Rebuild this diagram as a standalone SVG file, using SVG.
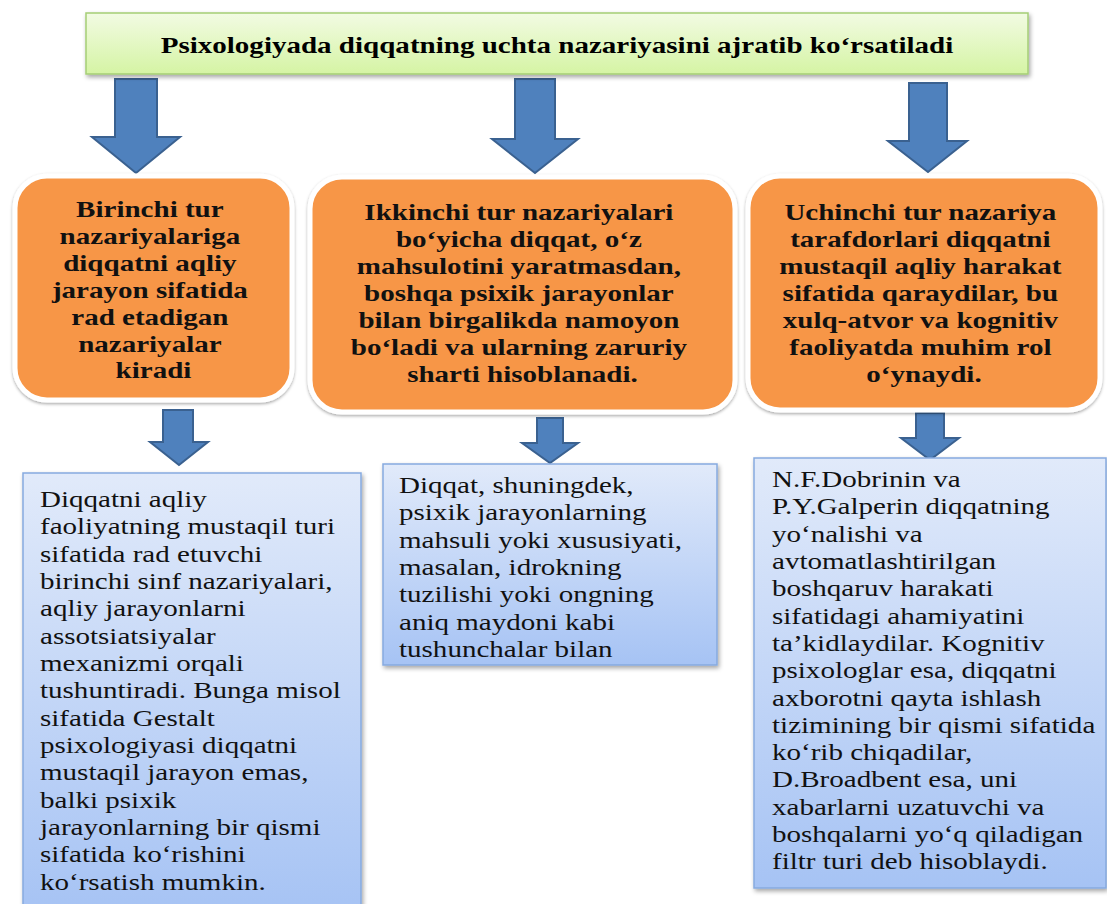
<svg xmlns="http://www.w3.org/2000/svg" width="1107" height="904" viewBox="0 0 1107 904">
<defs>
<linearGradient id="gGreen" x1="0" y1="0" x2="0" y2="1">
<stop offset="0" stop-color="#F2FBE3"/>
<stop offset="1" stop-color="#D5F4A4"/>
</linearGradient>
<linearGradient id="gBlue" x1="0" y1="0" x2="0" y2="1">
<stop offset="0" stop-color="#E1EAFA"/>
<stop offset="1" stop-color="#A6C3F4"/>
</linearGradient>
<filter id="sh" x="-10%" y="-10%" width="120%" height="130%">
<feDropShadow dx="1.5" dy="2.5" stdDeviation="2" flood-color="#000" flood-opacity="0.35"/>
</filter>
<filter id="shO" x="-10%" y="-10%" width="120%" height="130%">
<feDropShadow dx="0" dy="1.5" stdDeviation="1.8" flood-color="#000" flood-opacity="0.35"/>
</filter>
<style>
.title{font-family:"Liberation Serif","Times New Roman",serif;font-weight:bold;font-size:24px;fill:#000}
.otext{font-family:"Liberation Serif","Times New Roman",serif;font-weight:bold;font-size:24px;fill:#111}
.btext{font-family:"Liberation Serif","Times New Roman",serif;font-size:24px;fill:#111}
.green{fill:url(#gGreen);stroke:#A5CE76;stroke-width:1.5}
.orange{fill:#F79646;stroke:#FFFFFF;stroke-width:5}
.blue{fill:url(#gBlue);stroke:#86AADF;stroke-width:1.5}
.arrow{fill:#4F81BD;stroke:#3A6190;stroke-width:2;stroke-linejoin:miter}
</style>
</defs>
<rect width="1107" height="904" fill="#FFFFFF"/>

<g id="connectors">
<polygon class="arrow" points="115,79 157,79 157,137 180,137 136,173 92,137 115,137"/>
<polygon class="arrow" points="515,79 555,79 555,139 578,139 535,173 492,139 515,139"/>
<polygon class="arrow" points="909,83 947,83 947,141 967,141 928,172 888,141 909,141"/>
<polygon class="arrow" points="163,410 193,410 193,442 208,442 179,465 150,442 163,442"/>
<polygon class="arrow" points="537,418 563,418 563,443 578,443 550,463 522,443 537,443"/>
<polygon class="arrow" points="916,413 944,413 944,438 959,438 930,460 901,438 916,438"/>
</g>

<g id="title">
<rect class="green" x="86" y="13" width="942" height="61" filter="url(#sh)"/>
<text class="title" transform="translate(557,0) scale(1.21,1)" x="0" y="53" text-anchor="middle">Psixologiyada diqqatning uchta nazariyasini ajratib ko‘rsatiladi</text>
</g>

<g id="type1">
<rect class="orange" x="15" y="176" width="277" height="224" rx="32" filter="url(#shO)"/>
<text class="otext" transform="translate(153.5,0) scale(1.21,1)" text-anchor="middle">
<tspan x="0" y="217">Birinchi tur</tspan>
<tspan x="0" y="244">nazariyalariga</tspan>
<tspan x="0" y="271">diqqatni aqliy</tspan>
<tspan x="0" y="298">jarayon sifatida</tspan>
<tspan x="0" y="325">rad etadigan</tspan>
<tspan x="0" y="352">nazariyalar</tspan>
<tspan x="0" y="378">kiradi</tspan>
</text>
</g>

<g id="type2">
<rect class="orange" x="310" y="177" width="425" height="235" rx="32" filter="url(#shO)"/>
<text class="otext" transform="translate(522.5,0) scale(1.21,1)" text-anchor="middle">
<tspan x="0" y="220">Ikkinchi tur nazariyalari</tspan>
<tspan x="0" y="247">bo‘yicha diqqat, o‘z</tspan>
<tspan x="0" y="274">mahsulotini yaratmasdan,</tspan>
<tspan x="0" y="301">boshqa psixik jarayonlar</tspan>
<tspan x="0" y="328">bilan birgalikda namoyon</tspan>
<tspan x="0" y="355">bo‘ladi va ularning zaruriy</tspan>
<tspan x="0" y="382">sharti hisoblanadi.</tspan>
</text>
</g>

<g id="type3">
<rect class="orange" x="748" y="176" width="352" height="234" rx="32" filter="url(#shO)"/>
<text class="otext" transform="translate(924,0) scale(1.21,1)" text-anchor="middle">
<tspan x="0" y="220">Uchinchi tur nazariya</tspan>
<tspan x="0" y="247">tarafdorlari diqqatni</tspan>
<tspan x="0" y="274">mustaqil aqliy harakat</tspan>
<tspan x="0" y="301">sifatida qaraydilar, bu</tspan>
<tspan x="0" y="328">xulq-atvor va kognitiv</tspan>
<tspan x="0" y="355">faoliyatda muhim rol</tspan>
<tspan x="0" y="382">o‘ynaydi.</tspan>
</text>
</g>

<g id="desc1">
<rect class="blue" x="23" y="473" width="338" height="440" filter="url(#sh)"/>
<text class="btext" transform="translate(40,0) scale(1.21,1)">
<tspan x="0" y="507">Diqqatni aqliy</tspan>
<tspan x="0" y="534">faoliyatning mustaqil turi</tspan>
<tspan x="0" y="562">sifatida rad etuvchi</tspan>
<tspan x="0" y="589">birinchi sinf nazariyalari,</tspan>
<tspan x="0" y="616">aqliy jarayonlarni</tspan>
<tspan x="0" y="644">assotsiatsiyalar</tspan>
<tspan x="0" y="671">mexanizmi orqali</tspan>
<tspan x="0" y="698">tushuntiradi. Bunga misol</tspan>
<tspan x="0" y="726">sifatida Gestalt</tspan>
<tspan x="0" y="753">psixologiyasi diqqatni</tspan>
<tspan x="0" y="780">mustaqil jarayon emas,</tspan>
<tspan x="0" y="808">balki psixik</tspan>
<tspan x="0" y="835">jarayonlarning bir qismi</tspan>
<tspan x="0" y="862">sifatida ko‘rishini</tspan>
<tspan x="0" y="890">ko‘rsatish mumkin.</tspan>
</text>
</g>

<g id="desc2">
<rect class="blue" x="383" y="464" width="334" height="201" filter="url(#sh)"/>
<text class="btext" transform="translate(399,0) scale(1.21,1)">
<tspan x="0" y="493">Diqqat, shuningdek,</tspan>
<tspan x="0" y="520">psixik jarayonlarning</tspan>
<tspan x="0" y="548">mahsuli yoki xususiyati,</tspan>
<tspan x="0" y="575">masalan, idrokning</tspan>
<tspan x="0" y="602">tuzilishi yoki ongning</tspan>
<tspan x="0" y="630">aniq maydoni kabi</tspan>
<tspan x="0" y="657">tushunchalar bilan</tspan>
</text>
</g>

<g id="desc3">
<rect class="blue" x="754" y="458" width="352" height="430" filter="url(#sh)"/>
<text class="btext" transform="translate(772,0) scale(1.21,1)">
<tspan x="0" y="487">N.F.Dobrinin va</tspan>
<tspan x="0" y="514">P.Y.Galperin diqqatning</tspan>
<tspan x="0" y="542">yo‘nalishi va</tspan>
<tspan x="0" y="569">avtomatlashtirilgan</tspan>
<tspan x="0" y="596">boshqaruv harakati</tspan>
<tspan x="0" y="624">sifatidagi ahamiyatini</tspan>
<tspan x="0" y="651">ta’kidlaydilar. Kognitiv</tspan>
<tspan x="0" y="678">psixologlar esa, diqqatni</tspan>
<tspan x="0" y="706">axborotni qayta ishlash</tspan>
<tspan x="0" y="733">tizimining bir qismi sifatida</tspan>
<tspan x="0" y="760">ko‘rib chiqadilar,</tspan>
<tspan x="0" y="787">D.Broadbent esa, uni</tspan>
<tspan x="0" y="815">xabarlarni uzatuvchi va</tspan>
<tspan x="0" y="842">boshqalarni yo‘q qiladigan</tspan>
<tspan x="0" y="869">filtr turi deb hisoblaydi.</tspan>
</text>
</g>
</svg>
